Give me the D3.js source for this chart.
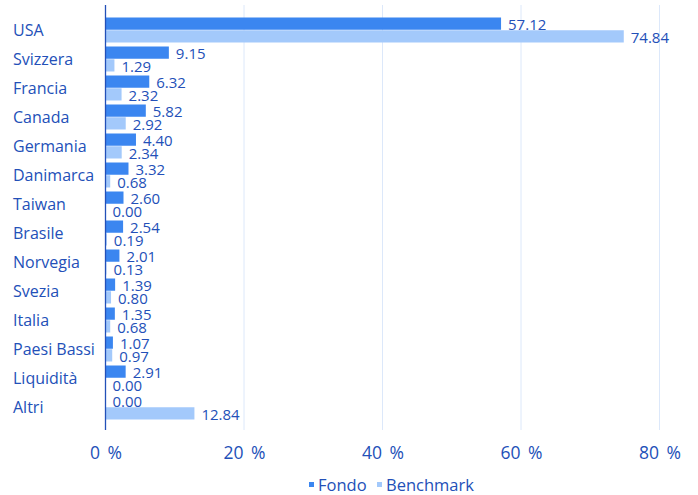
<!DOCTYPE html>
<html><head><meta charset="utf-8">
<script src="https://cdn.jsdelivr.net/npm/d3@7"></script>
<style>body{margin:0;background:#fff;} text{font-family:"Open Sans","Noto Sans",sans-serif;}</style>
</head><body><svg id="c" width="698" height="495"></svg>
<script>
const categories = ["USA","Svizzera","Francia","Canada","Germania","Danimarca","Taiwan","Brasile","Norvegia","Svezia","Italia","Paesi Bassi","Liquidità","Altri"];
const fondo = [57.12,9.15,6.32,5.82,4.40,3.32,2.60,2.54,2.01,1.39,1.35,1.07,2.91,0.00];
const benchmark = [74.84,1.29,2.32,2.92,2.34,0.68,0.00,0.19,0.13,0.80,0.68,0.97,0.00,12.84];
const seriesNames = ["Fondo","Benchmark"];
const ticks = [0,20,40,60,80];

const textColor = "#2350b8", cF = "#3b86f0", cB = "#a3c9fb";
const svg = d3.select("#c");
const x = d3.scaleLinear().domain([0,80]).range([105.5,659.5]);
const y = d3.scaleBand().domain(categories).range([15.5,421.5]).paddingInner(0).paddingOuter(0);
const sub = d3.scaleBand().domain(seriesNames).range([2,27]).paddingInner(0.04);

// gridlines
svg.append("g").selectAll("line").data(ticks.slice(1)).join("line")
  .attr("x1",d=>x(d)).attr("x2",d=>x(d)).attr("y1",5).attr("y2",430)
  .attr("stroke","#dce8fa").attr("stroke-width",1);

// axis ticks labels
const ax = d3.axisBottom(x).tickValues(ticks).tickFormat(d=>d+" %").tickSize(0).tickPadding(0);
const g = svg.append("g").attr("transform","translate(0,442)").call(ax);
g.select(".domain").remove();
g.selectAll("text").attr("fill",textColor).style("font-size","17.5px").style("word-spacing","3px").attr("dy","0.95em");

const data = categories.map((c,i)=>({c, vals:[{s:"Fondo",v:fondo[i]},{s:"Benchmark",v:benchmark[i]}]}));
const grp = svg.append("g").selectAll("g").data(data).join("g").attr("transform",d=>`translate(0,${y(d.c)})`);
grp.selectAll("rect").data(d=>d.vals).join("rect")
  .attr("x",x(0)).attr("y",d=>sub(d.s)).attr("width",d=>x(d.v)-x(0)).attr("height",sub.bandwidth())
  .attr("fill",d=>d.s==="Fondo"?cF:cB);
grp.selectAll("text.v").data(d=>d.vals).join("text").attr("class","v")
  .attr("x",d=>x(d.v)+7).attr("y",d=>sub(d.s)+sub.bandwidth()/2+1)
  .attr("dy","0.35em").attr("fill",textColor).style("font-size","15px").text(d=>d.v.toFixed(2));
grp.append("text").attr("x",13).attr("y",y.bandwidth()/2).attr("dy","0.35em")
  .attr("fill",textColor).style("font-size","16px").text(d=>d.c);

// axis line
svg.append("line").attr("x1",x(0)).attr("x2",x(0)).attr("y1",5).attr("y2",430).attr("stroke","#2350b8").attr("stroke-width",1.3);

// legend
const leg = svg.append("g");
const lx = [309,377];
seriesNames.forEach((s,i)=>{
  leg.append("rect").attr("x",lx[i]).attr("y",482).attr("width",5).attr("height",5).attr("fill",i?cB:cF);
  leg.append("text").attr("x",lx[i]+9).attr("y",485).attr("dy","0.35em").attr("fill",textColor).style("font-size","16.5px").text(s);
});
</script></body></html>
